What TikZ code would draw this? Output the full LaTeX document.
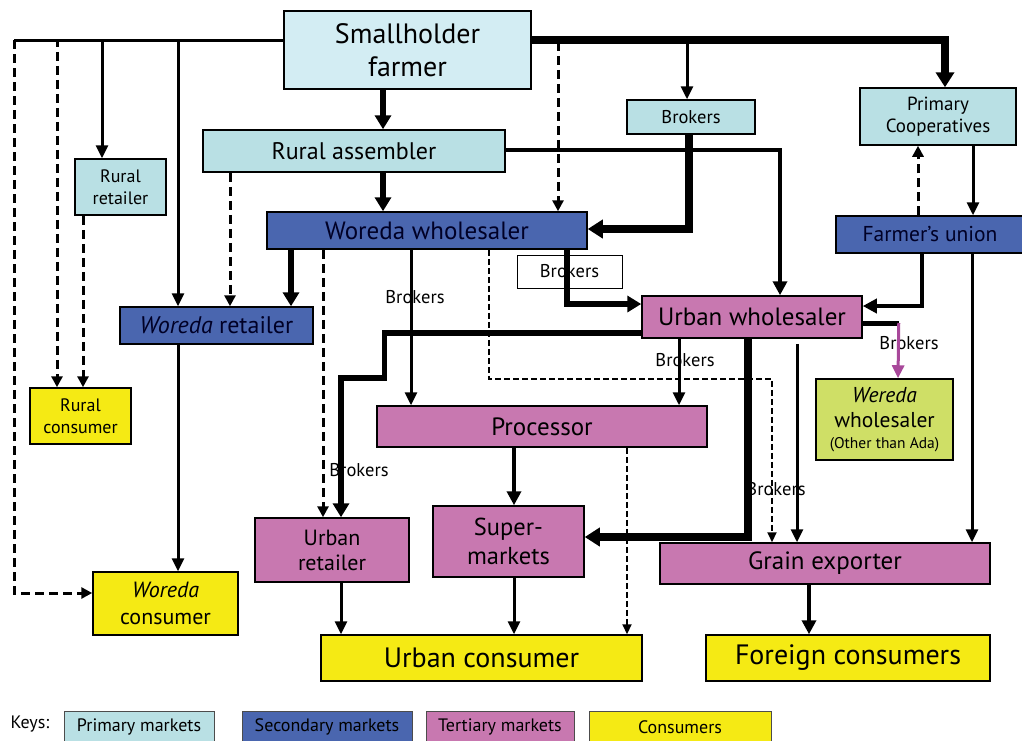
\documentclass[tikz,border=0pt]{standalone}
\usepackage{fontspec}
\setmainfont{PT Sans}
\usetikzlibrary{arrows.meta}
\definecolor{primary}{HTML}{B9E0E4}
\definecolor{primarylight}{HTML}{D3EDF3}
\definecolor{secondary}{HTML}{4A66AF}
\definecolor{tertiary}{HTML}{C878B0}
\definecolor{consumer}{HTML}{F5EA14}
\definecolor{othermkt}{HTML}{CFDF66}
\definecolor{brokerpink}{HTML}{A8489A}
\tikzstyle{box}=[draw=black,line width=1.5pt,inner sep=0pt,align=center,text=black]
\tikzstyle{prim}=[box,fill=primary]
\tikzstyle{sec}=[box,fill=secondary,text=black!85!blue]
\tikzstyle{tert}=[box,fill=tertiary]
\tikzstyle{cons}=[box,fill=consumer]
\tikzstyle{keybox}=[box,line width=0.8pt,draw=black!70,font=\fontsize{18}{21}\selectfont]
\tikzstyle{brk}=[font=\fontsize{18.5}{21}\selectfont]
\tikzstyle{link}=[line width=3pt,-{Triangle[length=13pt,width=12pt]}]
\tikzstyle{link_med}=[line width=4pt,-{Triangle[length=14pt,width=14pt]}]
\tikzstyle{link_thick}=[line width=5.5pt,-{Triangle[length=14pt,width=16pt]}]
\tikzstyle{link_heavy}=[line width=7.5pt,-{Triangle[length=15pt,width=18pt]}]
\tikzstyle{link_dashed}=[line width=3pt,dash pattern=on 9pt off 5pt,-{Triangle[length=11pt,width=11pt]}]
\tikzstyle{link_dotted}=[line width=2pt,dash pattern=on 6pt off 3pt,-{Triangle[length=10pt,width=9pt]}]

\begin{document}
\begin{tikzpicture}[x=1pt,y=-1pt]
\useasboundingbox (0,0) rectangle (1022,740);

% markets
\node[prim,fill=primarylight,minimum width=247pt,minimum height=78pt,font=\fontsize{28}{33}\selectfont] (sf) at (407.5,50) {Smallholder\\farmer};
\node[prim,minimum width=302pt,minimum height=42pt,font=\fontsize{24}{28}\selectfont] (ra) at (354,151) {Rural assembler};
\node[prim,minimum width=91pt,minimum height=56pt,font=\fontsize{18}{22}\selectfont] (rr) at (120.5,187) {Rural\\retailer};
\node[prim,minimum width=128pt,minimum height=34pt,font=\fontsize{18.5}{22}\selectfont] (bk) at (691,117) {Brokers};
\node[prim,minimum width=156pt,minimum height=57pt,font=\fontsize{19}{22}\selectfont] (pc) at (938,116.5) {Primary\\Cooperatives};
\node[sec,minimum width=320pt,minimum height=37pt,font=\fontsize{25}{28}\selectfont] (ww) at (427,230.5) {Woreda wholesaler};
\node[sec,minimum width=188pt,minimum height=37pt,font=\fontsize{21.5}{25}\selectfont] (fu) at (930,234.5) {Farmer’s union};
\node[box,line width=1pt,minimum width=105pt,minimum height=33pt,font=\fontsize{18.5}{22}\selectfont] (bw) at (569.5,271.5) {Brokers};
\node[sec,minimum width=193pt,minimum height=37pt,font=\fontsize{24}{28}\selectfont] (wr) at (216.5,325.5) {\textit{Woreda} retailer};
\node[tert,minimum width=220pt,minimum height=42pt,font=\fontsize{25}{28}\selectfont] (uw) at (752,317) {Urban wholesaler};
\node[cons,minimum width=101pt,minimum height=56pt,font=\fontsize{18}{22}\selectfont] (rc) at (80.5,416) {Rural\\consumer};
\node[box,fill=othermkt,minimum width=137pt,minimum height=81pt,font=\fontsize{21.5}{25}\selectfont] (wew) at (884.5,419.5) {\textit{Wereda}\\wholesaler\\[-4pt]{\fontsize{15.5}{17}\selectfont (Other than Ada)}};
\node[tert,minimum width=330pt,minimum height=41pt,font=\fontsize{25}{28}\selectfont] (pr) at (542,426.5) {Processor};
\node[tert,minimum width=154pt,minimum height=64pt,font=\fontsize{22}{25}\selectfont] (ur) at (332,550) {Urban\\retailer};
\node[tert,minimum width=151pt,minimum height=71pt,font=\fontsize{24.5}{29}\selectfont] (sm) at (508.5,541.5) {Super-\\markets};
\node[tert,minimum width=330pt,minimum height=41pt,font=\fontsize{25}{28}\selectfont] (ge) at (825,563.5) {Grain exporter};
\node[cons,minimum width=145pt,minimum height=63pt,font=\fontsize{22}{27}\selectfont] (wc) at (165.5,603.5) {\textit{Woreda}\\consumer};
\node[cons,minimum width=321pt,minimum height=46pt,font=\fontsize{28}{32}\selectfont] (uc) at (481.5,658) {Urban consumer};
\node[cons,minimum width=284pt,minimum height=46pt,font=\fontsize{28}{32}\selectfont] (fc) at (848,658) {Foreign consumers};

% broker labels under the lines
\node[brk] (b1) at (415,297) {Brokers};
\node[brk] (b2) at (685,360) {Brokers};
\node[brk] (b3) at (909,343) {Brokers};
\node[brk] (b4) at (776,489) {Brokers};
\node[brk] (b5) at (359,470) {Brokers};

% farmer, left side
\coordinate (farL) at (14,40);
\draw[line width=3pt] ([yshift=10pt]sf.west) -- (farL);
\draw[link_dashed] (farL) |- ([yshift=10.5pt]wc.west);
\draw[link_dashed] ([yshift=10pt]sf.west) -| ([xshift=-23.5pt]rc.north);
\draw[link] ([yshift=10pt]sf.west) -| ([xshift=-18.5pt]rr.north);
\draw[link] ([yshift=10pt]sf.west) -| ([xshift=-38.5pt]wr.north);

% farmer, right side
\draw[link_heavy] ([yshift=10pt]sf.east) -| ([xshift=7pt]pc.north);
\draw[link] ([yshift=10pt]sf.east) -| ([xshift=-4pt]bk.north);
\draw[link_dashed] ([yshift=10pt]sf.east) -| ([xshift=131pt]ww.north);
\draw[link_thick] ([xshift=-24.5pt]sf.south) -- ([xshift=29pt]ra.north);

% assembler, retailers, brokers
\draw[link_thick] ([xshift=29pt]ra.south) -- ([xshift=-44pt]ww.north);
\draw[link_med] ([yshift=1pt]ra.east) -| ([xshift=28pt]uw.north);
\draw[link_dashed] ([xshift=-124pt]ra.south) -- ([xshift=13.5pt]wr.north);
\draw[link_dashed] ([xshift=-37.5pt]rr.south) -- ([xshift=2.5pt]rc.north);
\draw[link_heavy] ([xshift=-2pt]bk.south) |- ([yshift=1.5pt]ww.east);

% cooperatives
\draw[link] ([xshift=35pt]pc.south) -- ([xshift=43pt]fu.north);
\draw[link_dashed] ([xshift=-12pt]fu.north) -- ([xshift=-20pt]pc.south);
\draw[link_med] ([xshift=-8pt]fu.south) |- ([yshift=11pt]uw.east);
\draw[link] ([xshift=42pt]fu.south) -- ([xshift=147pt]ge.north);

% woreda wholesaler
\draw[link_thick] ([xshift=-136pt]ww.south) -- ([xshift=74.5pt]wr.north);
\draw[link_dashed] ([xshift=-104pt]ww.south) -- ([xshift=-9pt]ur.north);
\draw[link] ([xshift=-16pt]ww.south) -- ([xshift=-131pt]pr.north);
\draw[link_dotted] ([xshift=62pt]ww.south) -- ++(0,129) -| ([xshift=-53pt]ge.north);
\draw[link_thick] ([xshift=140pt]ww.south) |- ([yshift=13pt]uw.west);

% urban wholesaler
\draw[link_thick] ([yshift=-16pt]uw.west) -- ++(-257,0) -- ++(0,45) -| ([xshift=9pt]ur.north);
\draw[link] ([xshift=-73pt]uw.south) -- ([xshift=137pt]pr.north);
\draw[link_heavy] ([xshift=-4pt]uw.south) |- ([yshift=4.5pt]sm.east);
\draw[link] ([xshift=45pt,yshift=-5pt]uw.south) -- ([xshift=-28pt]ge.north);
\draw[line width=5pt] ([yshift=-6pt]uw.east) -- ++(36,0) coordinate (uwR);
\draw[line width=3pt,brokerpink,-{Triangle[length=13pt,width=12pt]}] (uwR) -- ([xshift=13.5pt]wew.north);

% down to consumers
\draw[link] ([xshift=-38.5pt]wr.south) -- ([xshift=12.5pt]wc.north);
\draw[link_med] ([xshift=-28pt]pr.south) -- ([xshift=5.5pt]sm.north);
\draw[link_dotted] ([xshift=85pt]pr.south) -- ([xshift=145.5pt]uc.north);
\draw[link] ([xshift=9pt]ur.south) -- ([xshift=-140.5pt]uc.north);
\draw[link] ([xshift=5.5pt]sm.south) -- ([xshift=32.5pt]uc.north);
\draw[link_med] ([xshift=-16pt]ge.south) -- ([xshift=-39pt]fc.north);

% keys
\node[font=\fontsize{18}{21}\selectfont] (keys) at (30,724) {Keys:};
\node[keybox,fill=primary,minimum width=150pt,minimum height=31pt] (k1) at (139,727) {Primary markets};
\node[keybox,fill=secondary,minimum width=170pt,minimum height=31pt] (k2) at (327,727) {Secondary markets};
\node[keybox,fill=tertiary,minimum width=148pt,minimum height=31pt] (k3) at (500,727) {Tertiary markets};
\node[keybox,fill=consumer,minimum width=182pt,minimum height=31pt] (k4) at (680,727) {Consumers};
\end{tikzpicture}
\end{document}
